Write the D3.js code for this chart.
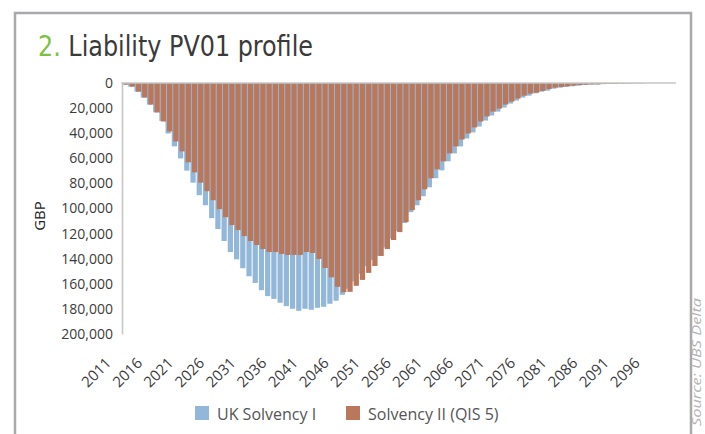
<!DOCTYPE html>
<html>
<head>
<meta charset="utf-8">
<script src="https://cdn.jsdelivr.net/npm/d3@7"></script>
<style>
  body { margin: 0; background: #fff; }
  svg { display: block; font-family: "Open Sans", sans-serif; }
</style>
</head>
<body>
<div id="chart"></div>
<script>
// categories: one per year
var years = d3.range(2011, 2100);

// PV01 in GBP thousands
var solvency1 = [
  1.3, 2.9, 6.9, 11.6, 17.2, 23.3, 30.2, 40.2, 50.5, 60.1,
  69.8, 79.4, 89.4, 97.4, 107.7, 116.4, 125.9, 134.7, 140.5, 147.6,
  154.0, 159.3, 165.1, 169.8, 172.0, 175.1, 177.8, 179.9, 181.5, 179.9,
  180.7, 179.1, 178.3, 175.9, 173.5, 168.8, 164, 158, 152, 146,
  141, 137.8, 131, 124, 118, 111.6, 102.9, 97.4, 90.2, 83.1,
  75.9, 69.6, 62.4, 56.1, 50.5, 44.2, 39.4, 34.7, 29.9, 25.9,
  22.8, 19.6, 16.4, 14.0, 11.6, 10.1, 8.2, 6.9, 6.1, 4.5,
  3.7, 3.2, 2.6, 2.1, 1.6, 1.3, 1.3, 0.9, 0.8, 0.7,
  0.5, 0.4, 0.3, 0.2, 0, 0, 0, 0, 0
];
var solvency2 = [
  1.3, 2.9, 6.9, 11.6, 17.2, 23.5, 30.7, 38.6, 46.6, 54.5,
  63.2, 71.2, 79.4, 86.2, 93.4, 100.5, 106.9, 113.2, 117.2, 122.0,
  125.9, 129.1, 132.3, 134.7, 134.7, 136.2, 137.0, 137.0, 137.0, 134.7,
  135.4, 140.2, 147.4, 154.8, 162.4, 166.7, 166.4, 161.6, 156.9, 151.3,
  145.8, 137.8, 132.3, 125.1, 118.8, 110.8, 101.3, 93.4, 84.7, 75.9,
  68.8, 62.4, 56.1, 50.5, 45.0, 40.2, 35.4, 30.7, 26.7, 22.8,
  20.4, 17.2, 14.8, 12.4, 10.1, 8.5, 7.7, 6.3, 4.8, 3.7,
  3.2, 2.6, 2.1, 1.6, 1.3, 1.1, 1.0, 0.8, 0.7, 0.5,
  0.4, 0.3, 0.2, 0.2, 0, 0, 0, 0, 0
];
var seriesNames = ["UK Solvency I", "Solvency II (QIS 5)"];
var seriesColors = ["#92b7d8", "#b9775b"];
var yTicks = [0, 20, 40, 60, 80, 100, 120, 140, 160, 180, 200];
var xLabelYears = d3.range(2011, 2100, 5);

var W = 705, H = 434;
var svg = d3.select("#chart").append("svg")
    .attr("width", W)
    .attr("height", H);

// frame round the panel
svg.append("path")
    .attr("d", "M15,434 V13 H691 V434")
    .attr("fill", "none")
    .attr("stroke", "#a9a9ab")
    .attr("stroke-width", 2.5);

// title
var title = svg.append("text")
    .attr("x", 38)
    .attr("y", 56)
    .attr("font-family", "'Liberation Sans Narrow', 'DejaVu Sans Condensed', Roboto, sans-serif")
    .attr("font-size", 28)
    .attr("textLength", 275)
    .attr("lengthAdjust", "spacingAndGlyphs");
title.append("tspan").attr("fill", "#7cc143").text("2. ");
title.append("tspan").attr("fill", "#3a3a3a").text("Liability PV01 profile");

// scales
var x = d3.scaleBand()
    .domain(years)
    .range([122, 675.6])
    .padding(0);
var y = d3.scaleLinear()
    .domain([0, 200])
    .range([83, 334]);

var step = x.step();
var barW = step * 0.84;

// bars, Solvency I first so Solvency II sits on top
var offsets = [0, 1.5];
[solvency1, solvency2].forEach(function(vals, s) {
  svg.append("g").selectAll("rect")
      .data(vals)
      .enter()
      .append("rect")
      .attr("x", function(d, i) { return x(years[i]) + offsets[s]; })
      .attr("y", y(0))
      .attr("width", barW)
      .attr("height", function(d) { return y(d) - y(0); })
      .attr("fill", seriesColors[s]);
});

// y axis (values grow downward)
var yAxis = svg.append("g")
    .attr("transform", "translate(122,0)")
    .call(d3.axisLeft(y).tickValues(yTicks).tickSize(0).tickPadding(9)
        .tickFormat(function(d) { return d3.format(",")(d * 1000); }));
yAxis.select(".domain").attr("stroke", "#c6c6c6").attr("stroke-width", 1.6);
yAxis.selectAll("text")
    .attr("font-family", "'Open Sans', sans-serif")
    .attr("font-size", 14)
    .attr("fill", "#3c3c3c");

// category axis along the zero line
svg.append("line")
    .attr("x1", 121).attr("x2", 676)
    .attr("y1", y(0)).attr("y2", y(0))
    .attr("stroke", "#c6c6c6")
    .attr("stroke-width", 1.6);

svg.append("g").selectAll("text")
    .data(xLabelYears)
    .enter()
    .append("text")
    .attr("transform", function(d) {
      return "translate(" + (x(d) + step / 2 - 13) + ",364) rotate(-45)";
    })
    .attr("text-anchor", "end")
    .attr("font-size", 15)
    .attr("fill", "#3c3c3c")
    .text(function(d) { return d; });

// axis title
svg.append("text")
    .attr("transform", "translate(45,216) rotate(-90)")
    .attr("text-anchor", "middle")
    .attr("font-size", 15)
    .attr("fill", "#222")
    .text("GBP");

// legend
var legendX = [195, 346];
seriesNames.forEach(function(name, s) {
  svg.append("rect")
      .attr("x", legendX[s]).attr("y", 406)
      .attr("width", 14).attr("height", 14)
      .attr("fill", seriesColors[s]);
  svg.append("text")
      .attr("x", legendX[s] + 22)
      .attr("y", 420)
      .attr("font-size", 16)
      .attr("fill", "#555")
      .text(name);
});

// source note, outside the frame
svg.append("text")
    .attr("transform", "translate(701,298) rotate(-90)")
    .attr("text-anchor", "end")
    .attr("font-size", 13)
    .attr("font-style", "italic")
    .attr("textLength", 128)
    .attr("lengthAdjust", "spacingAndGlyphs")
    .attr("fill", "#b3b3b3")
    .text("Source: UBS Delta");
</script>
</body>
</html>
